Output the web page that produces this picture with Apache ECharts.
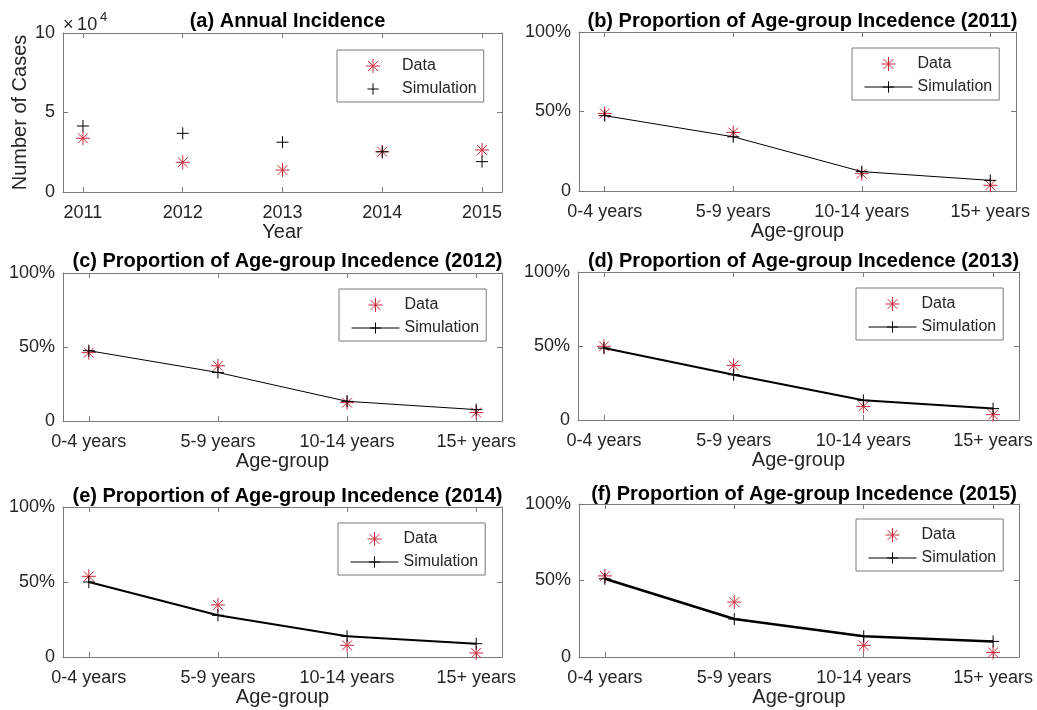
<!DOCTYPE html>
<html>
<head>
<meta charset="utf-8">
<script src="https://cdn.jsdelivr.net/npm/echarts@6/dist/echarts.min.js"></script>
<style>
html,body{margin:0;padding:0;background:#fff;}
#main{width:1037px;height:710px;}
</style>
</head>
<body>
<div id="main"></div>
<script>
// ---- data ----
const years = ['2011', '2012', '2013', '2014', '2015'];
const ageGroups = ['0-4 years', '5-9 years', '10-14 years', '15+ years'];
const annualData = [33800, 18700, 13800, 25300, 26400];
const annualSim = [41500, 36900, 31300, 25300, 19100];
const prop2011Data = [48.8, 36.8, 10.9, 3.6];
const prop2011Sim = [47.4, 34.1, 12.2, 6.7];
const prop2012Data = [46.2, 37.3, 12.4, 5.7];
const prop2012Sim = [47.5, 32.8, 13.3, 7.7];
const prop2013Data = [49.8, 36.9, 9.2, 3.6];
const prop2013Sim = [48.6, 30.6, 13.3, 7.7];
const prop2014Data = [53.8, 34.7, 7.8, 2.7];
const prop2014Sim = [50.0, 27.8, 13.8, 8.9];
const prop2015Data = [53.0, 35.9, 7.6, 3.0];
const prop2015Sim = [51.1, 24.8, 13.5, 10.2];
const percentTicks = [0, 50, 100];
const caseTicks = [0, 50000, 100000];

// ---- styling ----
const FONT = "'Liberation Sans', Arial, Helvetica, sans-serif";
const AXIS_COLOR = '#7a7a7a';
const TEXT_COLOR = '#262626';
const RED = '#cc2a3a';
const ASTERISK = 'path://M0,-1L0,1M-1,0L1,0M-0.7,-0.7L0.7,0.7M-0.7,0.7L0.7,-0.7';
const PLUS = 'path://M0,-1L0,1M-1,0L1,0';

const panels = [
  {grid: {left: 63, top: 33, width: 439, height: 159}, title: '(a) Annual Incidence', titleTop: 6,
   cats: years, data: annualData, sim: annualSim, annual: true, lw: 1,
   legend: {left: 337, top: 50}},
  {grid: {left: 579, top: 32, width: 437, height: 159}, title: '(b) Proportion of Age-group Incedence (2011)', titleTop: 6,
   cats: ageGroups, data: prop2011Data, sim: prop2011Sim, lw: 1, legend: {left: 852, top: 48}},
  {grid: {left: 63, top: 273, width: 439, height: 148}, title: '(c) Proportion of Age-group Incedence (2012)', titleTop: 246,
   cats: ageGroups, data: prop2012Data, sim: prop2012Sim, lw: 1, legend: {left: 339, top: 289}},
  {grid: {left: 578, top: 272, width: 441, height: 148}, title: '(d) Proportion of Age-group Incedence (2013)', titleTop: 246,
   cats: ageGroups, data: prop2013Data, sim: prop2013Sim, lw: 2, legend: {left: 856, top: 288}},
  {grid: {left: 63, top: 507, width: 439, height: 150}, title: '(e) Proportion of Age-group Incedence (2014)', titleTop: 481,
   cats: ageGroups, data: prop2014Data, sim: prop2014Sim, lw: 2, legend: {left: 338, top: 523}},
  {grid: {left: 579, top: 504, width: 440, height: 153}, title: '(f) Proportion of Age-group Incedence (2015)', titleTop: 479,
   cats: ageGroups, data: prop2015Data, sim: prop2015Sim, lw: 2.5, legend: {left: 856, top: 519}}
];

const grids = [], xAxes = [], yAxes = [], series = [], titles = [], legends = [];

panels.forEach((p, i) => {
  grids.push(Object.assign({containLabel: false}, p.grid));
  const n = p.cats.length;
  const idx = p.cats.map((c, k) => k);
  const xMin = -0.2, xMax = n - 1 + 0.2;
  const axisLine = {show: true, onZero: false, lineStyle: {color: AXIS_COLOR, width: 1}};
  xAxes.push({
    type: 'value', gridIndex: i, position: 'bottom', min: xMin, max: xMax,
    axisLine: axisLine, splitLine: {show: false},
    axisTick: {show: true, inside: true, length: 5, customValues: idx, lineStyle: {color: AXIS_COLOR}},
    axisLabel: {show: true, customValues: idx, formatter: v => p.cats[Math.round(v)],
      color: TEXT_COLOR, fontFamily: FONT, fontSize: 18, margin: 12},
    name: p.annual ? 'Year' : 'Age-group', nameLocation: 'middle', nameGap: 30,
    nameTextStyle: {color: TEXT_COLOR, fontFamily: FONT, fontSize: 20}
  });
  xAxes.push({
    type: 'value', gridIndex: i, position: 'top', min: xMin, max: xMax,
    axisLine: axisLine, splitLine: {show: false},
    axisTick: {show: true, inside: true, length: 5, customValues: idx, lineStyle: {color: AXIS_COLOR}},
    axisLabel: {show: false}
  });
  const yTicks = p.annual ? caseTicks : percentTicks;
  const yMax = yTicks[yTicks.length - 1];
  const yInt = yTicks[1] - yTicks[0];
  yAxes.push({
    type: 'value', gridIndex: i, position: 'left', min: 0, max: yMax, interval: yInt,
    axisLine: axisLine, splitLine: {show: false},
    axisTick: {show: true, inside: true, length: 5, lineStyle: {color: AXIS_COLOR}},
    axisLabel: {color: TEXT_COLOR, fontFamily: FONT, fontSize: 18, margin: 8,
      formatter: v => p.annual ? String(v / 10000) : (v === 0 ? '0' : v + '%')},
    name: p.annual ? 'Number of Cases' : '', nameLocation: 'middle', nameGap: 33, nameRotate: 90,
    nameTextStyle: {color: TEXT_COLOR, fontFamily: FONT, fontSize: 20}
  });
  yAxes.push({
    type: 'value', gridIndex: i, position: 'right', min: 0, max: yMax, interval: yInt,
    axisLine: axisLine, splitLine: {show: false},
    axisTick: {show: true, inside: true, length: 5, lineStyle: {color: AXIS_COLOR}},
    axisLabel: {show: false}
  });
  const dName = 'Data ' + i, sName = 'Simulation ' + i;
  series.push({
    name: dName, type: 'scatter', xAxisIndex: 2 * i, yAxisIndex: 2 * i,
    data: p.data.map((v, k) => [k, v]),
    symbol: ASTERISK, symbolSize: 14, symbolKeepAspect: true,
    itemStyle: {color: RED, borderColor: RED, borderWidth: 1, opacity: 1},
    emphasis: {disabled: true}, z: 2
  });
  series.push({
    name: sName, type: 'line', xAxisIndex: 2 * i, yAxisIndex: 2 * i,
    data: p.sim.map((v, k) => [k, v]),
    symbol: PLUS, symbolSize: 12, symbolKeepAspect: true, showSymbol: true, showAllSymbol: true,
    lineStyle: p.annual ? {color: '#000', width: 0, opacity: 0} : {color: '#000', width: p.lw},
    itemStyle: {color: '#000', borderColor: '#000', borderWidth: 1},
    emphasis: {disabled: true}, z: 3, animation: false
  });
  titles.push({
    text: p.title, left: p.grid.left + p.grid.width / 2, top: p.titleTop, textAlign: 'center',
    textStyle: {fontFamily: FONT, fontSize: 20, fontWeight: 'bold', color: '#000'}
  });
  legends.push({
    data: [dName, sName], left: p.legend.left, top: p.legend.top, orient: 'vertical',
    itemWidth: 48, itemHeight: 14, itemGap: 7,
    padding: [8, 7, 5, 12],
    borderColor: AXIS_COLOR, borderWidth: 1, backgroundColor: '#fff',
    selectedMode: false,
    formatter: name => name.startsWith('Data') ? 'Data' : 'Simulation',
    itemStyle: {borderWidth: 1},
    lineStyle: p.annual ? {width: 0, opacity: 0} : {width: 1, color: '#000'},
    textStyle: {fontFamily: FONT, fontSize: 16, color: TEXT_COLOR, lineHeight: 16}
  });
});

const option = {
  backgroundColor: '#fff',
  animation: false,
  title: titles,
  grid: grids,
  xAxis: xAxes,
  yAxis: yAxes,
  legend: legends,
  series: series,
  graphic: [
    {type: 'text', left: 63, top: 16, style: {text: '×\u200910', fontFamily: FONT, fontSize: 18, fill: TEXT_COLOR}},
    {type: 'text', left: 100, top: 11, style: {text: '4', fontFamily: FONT, fontSize: 13, fill: TEXT_COLOR}}
  ]
};

const chart = echarts.init(document.getElementById('main'), null, {renderer: 'canvas'});
chart.setOption(option);
</script>
</body>
</html>
